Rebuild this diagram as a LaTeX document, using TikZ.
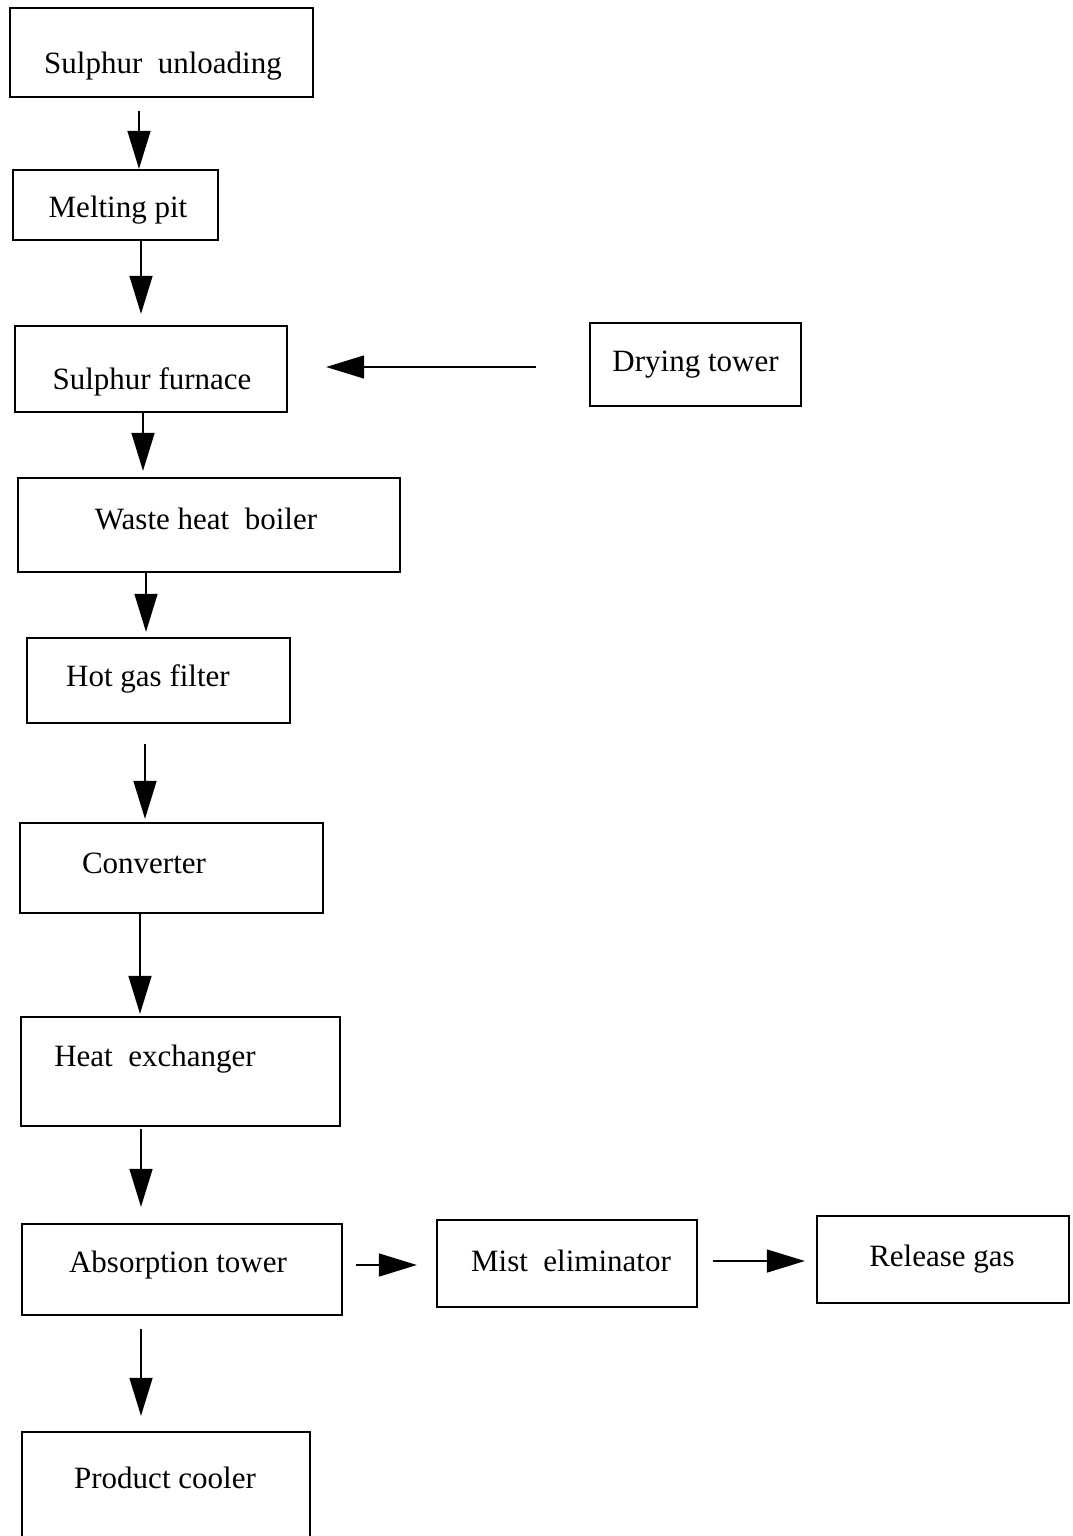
\documentclass[tikz,border=0pt]{standalone}
\usepackage{fontspec}
\setmainfont{Liberation Serif}
\usetikzlibrary{arrows.meta,positioning}

\begin{document}
\begin{tikzpicture}[x=1pt,y=-1pt,->,>={Triangle[length=38pt,width=23pt]},line width=1.5pt,
font=\fontsize{31}{36}\selectfont,
every label/.append style={yshift=-3pt},
stage/.style={draw,rectangle,line width=2.3pt,inner sep=0pt}]
\useasboundingbox (0,0) rectangle (1072,1536);
\node[stage,minimum width=303pt,minimum height=89pt,label={[xshift=1.5pt,yshift=-10.5pt]center:Sulphur\ \ unloading}] (0) at (161.5,52.5) {};
\node[stage,minimum width=205pt,minimum height=70pt,label={[xshift=2.5pt,yshift=-2pt]center:Melting pit}] (1) at (115.5,205) {};
\node[stage,minimum width=272pt,minimum height=86pt,label={[xshift=1pt,yshift=-10pt]center:Sulphur furnace}] (2) at (151,369) {};
\node[stage,minimum width=211pt,minimum height=83pt,label={[yshift=2.5pt]center:Drying tower}] (3) at (695.5,364.5) {};
\node[stage,minimum width=382pt,minimum height=94pt,label={[xshift=-3pt,yshift=9pt]center:Waste heat\ \ boiler}] (4) at (209,525) {};
\node[stage,minimum width=263pt,minimum height=85pt,label={[xshift=-10.5pt,yshift=4.5pt]center:Hot gas filter}] (5) at (158.5,680.5) {};
\node[stage,minimum width=303pt,minimum height=90pt,label={[xshift=-27.5pt,yshift=8pt]center:Converter}] (6) at (171.5,868) {};
\node[stage,minimum width=319pt,minimum height=109pt,label={[xshift=-25.5pt,yshift=15.5pt]center:Heat\ \ exchanger}] (7) at (180.5,1071.5) {};
\node[stage,minimum width=320pt,minimum height=91pt,label={[xshift=-4pt,yshift=7.5pt]center:Absorption tower}] (8) at (182,1269.5) {};
\node[stage,minimum width=260pt,minimum height=87pt,label={[xshift=4pt,yshift=5.5pt]center:Mist\ \ eliminator}] (9) at (567,1263.5) {};
\node[stage,minimum width=252pt,minimum height=87pt,label={[xshift=-1pt,yshift=3.5pt]center:Release gas}] (10) at (943,1259.5) {};
\node[stage,minimum width=288pt,minimum height=108pt,label={[xshift=-1pt,yshift=11pt]center:Product cooler}] (11) at (166,1486) {};

\path
([xshift=-22.5pt]0.south) edge[shorten <=13pt] ([xshift=23.5pt]1.north)
([xshift=25.5pt]1.south) edge[shorten >=11pt] ([xshift=-10pt]2.north)
([yshift=-2.5pt]3.west) edge[shorten <=53pt,shorten >=38pt] ([yshift=2pt]2.east)
([xshift=-8pt]2.south) edge[shorten >=6pt] ([xshift=-66pt]4.north)
([xshift=-63pt]4.south) edge[shorten >=5pt] ([xshift=-12.5pt]5.north)
([xshift=-13.5pt]5.south) edge[shorten <=20pt,shorten >=3pt] ([xshift=-26.5pt]6.north)
([xshift=-31.5pt]6.south) edge[shorten >=2pt] ([xshift=-40.5pt]7.north)
([xshift=-39.5pt]7.south) edge[shorten <=2pt,shorten >=16pt] ([xshift=-41pt]8.north)
([xshift=-41pt]8.south) edge[shorten <=13pt,shorten >=15pt] ([xshift=-25pt]11.north)
([yshift=4.5pt]8.east) edge[shorten <=13pt,shorten >=19pt] ([yshift=-1.5pt]9.west)
([yshift=2.5pt]9.east) edge[shorten <=15pt,shorten >=11pt] ([yshift=-1.5pt]10.west)
;
\end{tikzpicture}
\end{document}
